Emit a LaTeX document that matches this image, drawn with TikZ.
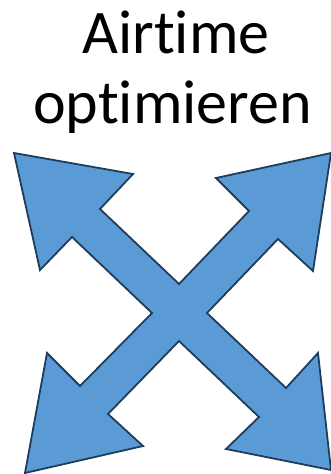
\documentclass[tikz,border=0pt]{standalone}
\usepackage{fontspec}
\setmainfont{Carlito}[Ligatures={NoCommon,NoRare,NoContextual}]
\definecolor{arrowfill}{HTML}{5B9BD5}
\definecolor{arrowline}{HTML}{1F3D5A}
\begin{document}
\begin{tikzpicture}[x=1pt,y=-1pt,
  title/.style={inner sep=0pt,anchor=base,font=\fontsize{62}{70}\selectfont},
  quadarrow/.style={fill=arrowfill,draw=arrowline,line width=1.8pt,line join=miter}]
\useasboundingbox (0,0) rectangle (331,474);
\node[title] (l1) at (176,53) {Airtime};
\node[title] (l2) at (172.5,123) {optimieren};
\draw[quadarrow] (14,153) -- (133,174) -- (100,209) -- (179,284) -- (249,211) -- (216,178)
  -- (331,153) -- (313,271) -- (278,239) -- (207,313) -- (286,388) -- (318,353)
  -- (331,470) -- (226,449) -- (259,417) -- (179,341) -- (108,414) -- (143,446)
  -- (25,473) -- (47,353) -- (80,386) -- (152,313) -- (72,237) -- (40,270) -- cycle;
\end{tikzpicture}
\end{document}
